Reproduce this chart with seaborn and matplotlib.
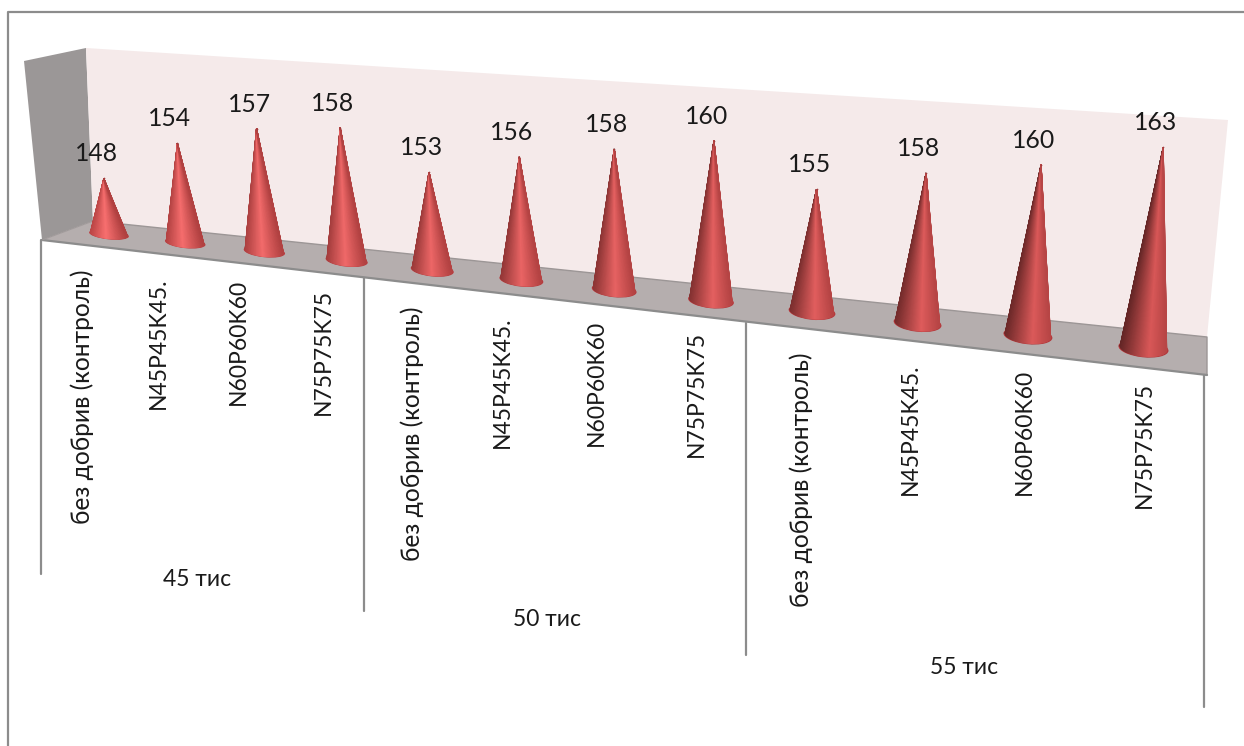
import numpy as np
import pandas as pd
import seaborn as sns
import matplotlib
matplotlib.use("Agg")
import matplotlib.pyplot as plt
from matplotlib.colors import LinearSegmentedColormap
from matplotlib.patches import Ellipse, Polygon

# Yield figures per planting density and fertiliser treatment
treatments = ["без добрив (контроль)", "N45P45K45.", "N60P60K60", "N75P75K75"]
densities = ["45 тис", "50 тис", "55 тис"]
values_45 = [148, 154, 157, 158]
values_50 = [153, 156, 158, 160]
values_55 = [155, 158, 160, 163]

values = values_45 + values_50 + values_55
categories = treatments * len(densities)

sns.set_theme(style="white")
plt.rcParams["font.family"] = ["Lato", "Open Sans", "DejaVu Sans"]

fig = plt.figure(figsize=(12.44, 7.46), dpi=100, facecolor="white")
ax = fig.add_axes([0, 0, 1, 1])
ax.set_xlim(0, 1244)
ax.set_ylim(746, 0)
ax.axis("off")

# --- perspective projection of the value axis and the category axis ---
AXIS_BASE = 140.0
UNIT_PX = 6.94
DEPTH_RATE = 0.0186
ORIGIN = (109.0, 234.0)
STEP = (74.8, 8.24)
VANISH_X = 610.0
VANISH_H = 5400.0


def project(index, value):
    """Return base centre, apex and perspective scale for a category and value."""
    scale = 1.0 / (1.0 - DEPTH_RATE * index)
    bx = ORIGIN[0] + STEP[0] * index * scale
    by = ORIGIN[1] + STEP[1] * index * scale
    height = (value - AXIS_BASE) * UNIT_PX * scale
    tx = bx + (bx - VANISH_X) * height / VANISH_H
    return bx, by, tx, by - height, scale


# --- 3D box: side wall, back wall and floor ---
ax.add_patch(Polygon([(24, 61), (86, 48), (93, 221), (42, 240)], fc="#9b9797", ec="none"))
ax.add_patch(Polygon([(86, 48), (1228, 120), (1207, 337), (93, 221)], fc="#f5eaea", ec="none"))
ax.add_patch(Polygon([(93, 221), (1207, 337), (1207, 375), (42, 240)], fc="#b5aeae", ec="none"))

LINE = "#8c8c8c"
ax.plot([93, 1207, 1207], [221, 337, 375], color="#9c9696", lw=1.0)
ax.plot([42, 1207], [240, 375], color=LINE, lw=1.6)
ax.plot([42, 93], [240, 221], color="#a09a9a", lw=0.8)

# Outer chart border (top and left edges)
ax.plot([8, 8, 1244], [746, 12, 12], color=LINE, lw=1.6)

# Group dividers on the category axis
dividers = pd.DataFrame({
    "x": [41, 41, 364, 364, 746, 746, 1204, 1204],
    "y": [240, 574, 278, 611, 323, 655, 375, 707],
    "group": [0, 0, 1, 1, 2, 2, 3, 3],
})
sns.lineplot(data=dividers, x="x", y="y", units="group", estimator=None, sort=False,
             color=LINE, lw=1.6, ax=ax, legend=False)

# --- cones ---
n = len(values)
left_edge = sns.blend_palette(["#bc4646", "#642626"], n)
bright = sns.blend_palette(["#f97070", "#d95858"], n)
right_edge = sns.blend_palette(["#b04040", "#b84646"], n)
rim = sns.blend_palette(["#bc3e42", "#b2363a"], n)

TILT = np.deg2rad(6.0)
STEPS = 60
tips_x, tips_y = [], []

for i, v in enumerate(values):
    bx, by, tx, ty, scale = project(i, v)
    rx = 20.0 * scale
    ry = 5.0 + 0.36 * i
    tips_x.append(tx)
    tips_y.append(ty)

    # base disc, slightly wider than the body where it meets the floor
    ax.add_patch(Ellipse((bx, by + 0.4), 2 * rx, 2 * ry,
                         angle=np.rad2deg(TILT), fc=rim[i], ec="none", zorder=3))

    # front half of the cone, shaded around its circumference from left to right
    body_rx = 0.93 * rx
    theta = np.linspace(np.pi, 0, STEPS + 1)
    ex = body_rx * np.cos(theta)
    ey = 0.93 * ry * np.sin(theta)
    px = bx + ex * np.cos(TILT) - ey * np.sin(TILT)
    py = by + ex * np.sin(TILT) + ey * np.cos(TILT)
    u = 0.5 * (1 + np.cos(theta))

    peak = 0.44 + 0.2 * i / (n - 1)
    shade = LinearSegmentedColormap.from_list(
        f"cone{i}", [(0.0, left_edge[i]), (peak, bright[i]), (1.0, right_edge[i])])

    outline = np.column_stack([np.r_[tx, px], np.r_[ty, py]])
    ax.add_patch(Polygon(outline, fc=bright[i], ec=right_edge[i], lw=0.4, zorder=4))

    X = np.vstack([np.full_like(px, tx), px])
    Y = np.vstack([np.full_like(py, ty), py])
    C = np.vstack([u, u])
    ax.pcolormesh(X, Y, C, shading="gouraud", cmap=shade, vmin=0, vmax=1,
                  zorder=4.5, rasterized=True)

# Apex points of the cones
sns.scatterplot(x=tips_x, y=tips_y, s=1.5, color="#a03c3c", linewidth=0, ax=ax,
                zorder=5, legend=False)

# --- labels ---
TEXT = "#1a1a1a"
for v, tx, ty in zip(values, tips_x, tips_y):
    ax.text(tx - 7.5, ty - 24.5, str(v), ha="center", va="center", fontsize=17.8, color=TEXT)

label_x = [82, 158, 238, 323, 412, 502, 596, 696, 801, 910, 1024, 1144]
label_y = [397, 343, 342, 352, 434, 382, 383, 394, 480, 429, 432, 445]
label_size = [17.7, 16.5, 16.5, 16.5] * len(densities)
for name, lx, ly, size in zip(categories, label_x, label_y, label_size):
    ax.text(lx, ly, name, rotation=90, ha="center", va="center", fontsize=size, color=TEXT)

group_x = [197, 547, 964]
group_y = [580, 619, 667]
for name, gx, gy in zip(densities, group_x, group_y):
    ax.text(gx, gy, name, ha="center", va="center", fontsize=16.5, color=TEXT)

ax.set_xlim(0, 1244)
ax.set_ylim(746, 0)
ax.set_xlabel("")
ax.set_ylabel("")
fig.savefig("out.png", dpi=100, facecolor="white")
